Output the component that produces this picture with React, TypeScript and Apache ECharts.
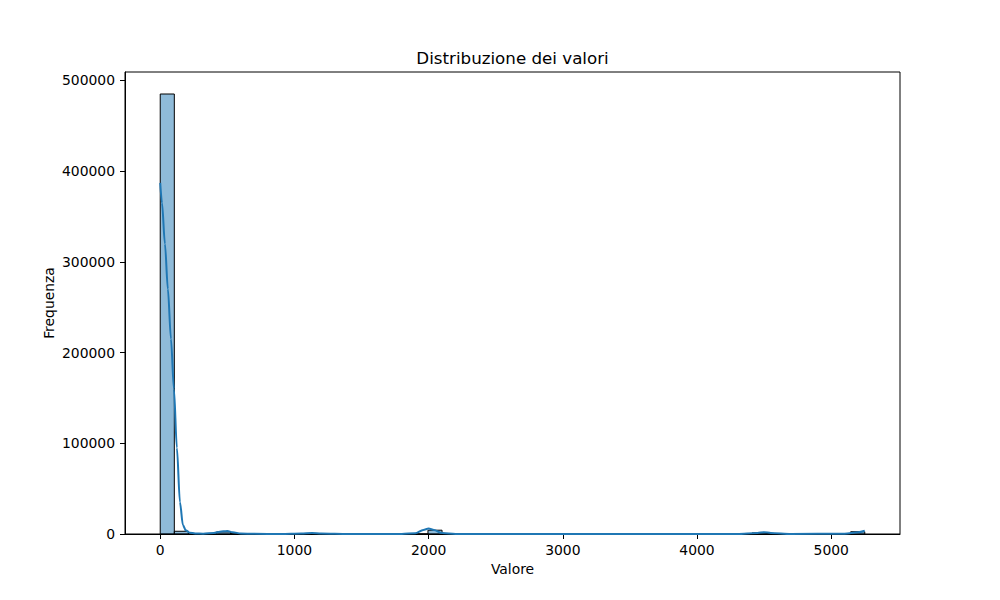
import React, { useEffect, useRef } from "react";
import * as echarts from "echarts";

// histogram: 50 bins of width 105 over 0..5250
const binWidth = 105;
const binCounts = [
  485000, 3000, 0, 0, 2300, 200, 0, 0, 0, 0,
  500, 300, 0, 0, 0, 0, 0, 0, 0, 4200,
  0, 0, 0, 0, 0, 0, 0, 0, 0, 0,
  0, 0, 0, 0, 0, 0, 0, 0, 0, 0,
  0, 0, 1200, 500, 0, 0, 0, 0, 0, 2500,
];

// kde curve
const kdeX = [
  0, 13, 35, 57, 80, 102, 124, 147, 169, 190, 220, 260, 320, 400, 470, 500,
  540, 600, 700, 900, 1050, 1130, 1200, 1400, 1800, 1900, 1960, 2000, 2040,
  2100, 2200, 3000, 4300, 4450, 4500, 4550, 4700, 5100, 5200, 5250,
];
const kdeY = [
  387000, 365000, 320000, 270000, 215000, 160000, 95000, 35000, 10000, 4000,
  1500, 600, 300, 1200, 3000, 3300, 2000, 500, 150, 100, 600, 1000, 600, 100,
  100, 800, 4500, 6000, 4500, 1000, 100, 50, 100, 1200, 2000, 1200, 100, 200,
  1800, 3500,
];

const xTicks = [0, 1000, 2000, 3000, 4000, 5000];
const yTicks = [0, 100000, 200000, 300000, 400000, 500000];

const font = "DejaVu Sans";

const App = () => {
  const chartRef = useRef<HTMLDivElement>(null);
  useEffect(() => {
    const chart = echarts.init(chartRef.current as HTMLDivElement, null, {
      renderer: "svg",
    });

    const bars = binCounts.map((c, i) => [i * binWidth, (i + 1) * binWidth, c]);
    const kde = kdeX.map((x, i) => [x, kdeY[i]]);

    const option = {
      animation: false,
      textStyle: { fontFamily: font },
      grid: {
        left: 125,
        right: 100,
        top: 72,
        bottom: 66,
        show: true,
        borderColor: "#000",
        borderWidth: 1,
        backgroundColor: "transparent",
      },
      graphic: [
        {
          type: "text",
          x: 512.5,
          y: 58,
          style: {
            text: "Distribuzione dei valori",
            textAlign: "center",
            textVerticalAlign: "middle",
            font: `16.7px "${font}"`,
            fill: "#000",
          },
        },
      ],
      xAxis: {
        type: "value",
        min: -262.5,
        max: 5512.5,
        name: "Valore",
        nameLocation: "middle",
        nameGap: 28,
        nameMoveOverlap: false,
        nameTextStyle: { fontFamily: font, fontSize: 13.9, color: "#000" },
        axisLine: { show: true, onZero: false, lineStyle: { color: "#000", width: 1 } },
        axisTick: {
          show: true,
          length: 5,
          lineStyle: { color: "#000" },
          customValues: xTicks,
        },
        axisLabel: {
          fontFamily: font,
          fontSize: 13.9,
          color: "#000",
          margin: 9,
          customValues: xTicks,
          formatter: (v: number) => String(v),
        },
        splitLine: { show: false },
      },
      yAxis: {
        type: "value",
        min: 0,
        max: 509250,
        name: "Frequenza",
        nameLocation: "middle",
        nameGap: 69,
        nameMoveOverlap: false,
        nameTextStyle: { fontFamily: font, fontSize: 13.9, color: "#000" },
        axisLine: { show: true, onZero: false, lineStyle: { color: "#000", width: 1 } },
        axisTick: {
          show: true,
          length: 5,
          lineStyle: { color: "#000" },
          customValues: yTicks,
        },
        axisLabel: {
          fontFamily: font,
          fontSize: 13.9,
          color: "#000",
          margin: 10,
          customValues: yTicks,
          formatter: (v: number) => String(v),
        },
        splitLine: { show: false },
      },
      series: [
        {
          type: "custom",
          data: bars,
          encode: { x: [0, 1], y: 2 },
          renderItem: (params: any, api: any) => {
            const topLeft = api.coord([api.value(0), api.value(2)]);
            const bottomRight = api.coord([api.value(1), 0]);
            return {
              type: "rect",
              shape: {
                x: topLeft[0],
                y: topLeft[1],
                width: bottomRight[0] - topLeft[0],
                height: bottomRight[1] - topLeft[1],
              },
              style: {
                fill: "rgba(31,119,180,0.5)",
                stroke: "#000",
                lineWidth: 1,
              },
            };
          },
          z: 2,
        },
        {
          type: "line",
          data: kde,
          showSymbol: false,
          smooth: 0.3,
          smoothMonotone: "x",
          lineStyle: { color: "#1f77b4", width: 2 },
          z: 3,
        },
      ],
    };
    chart.setOption(option);

    return () => {
      chart.dispose();
    };
  }, []);

  return (
    <div
      ref={chartRef}
      style={{ position: "fixed", left: 0, top: 0, width: "1000px", height: "600px", background: "#fff" }}
    />
  );
};

export default App;
